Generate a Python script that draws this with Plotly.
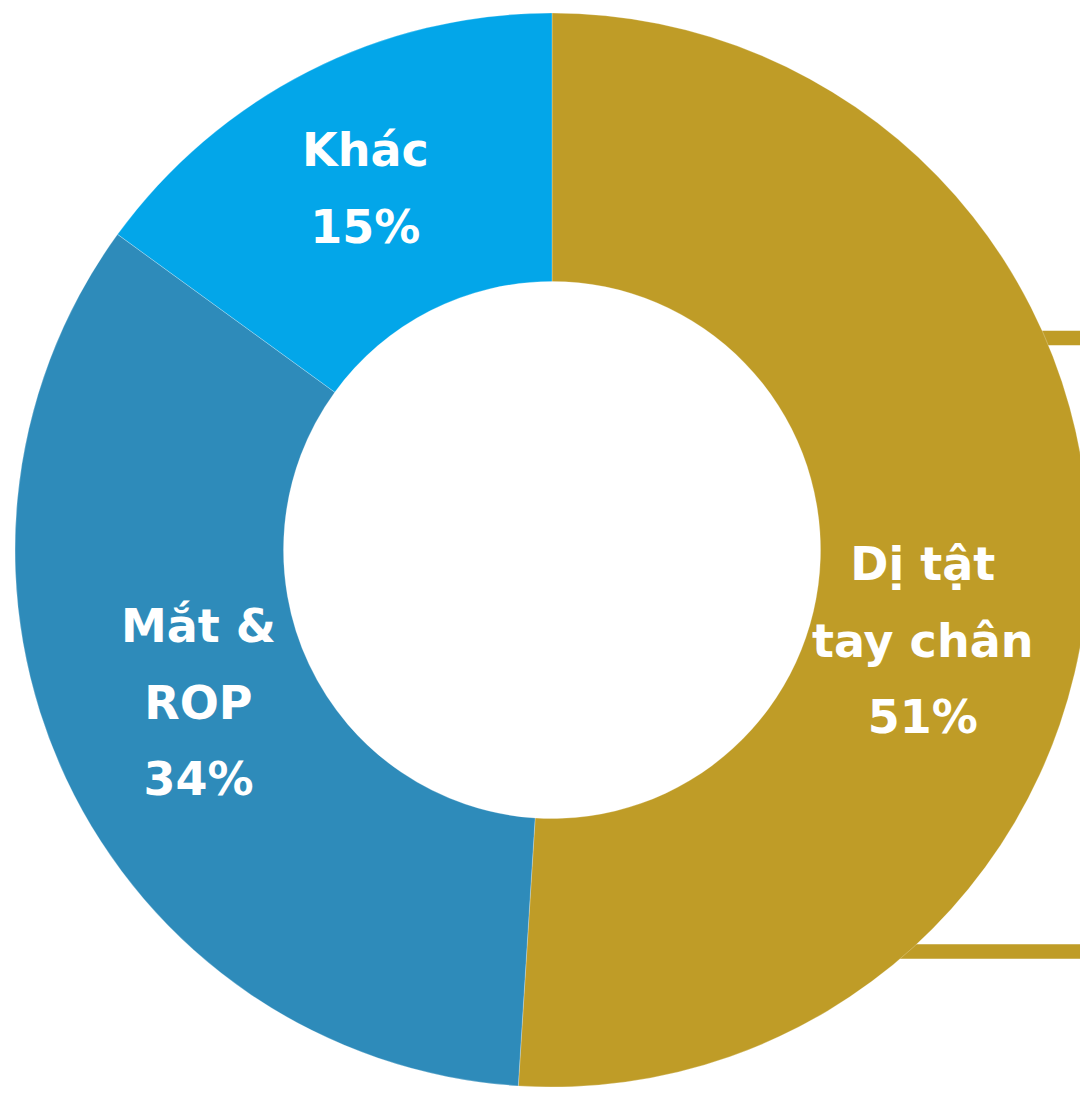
import math
import plotly.graph_objects as go

# ---- data ----
labels = ["Dị tật tay chân", "Mắt & ROP", "Khác"]
label_lines = [["Dị tật", "tay chân"], ["Mắt &", "ROP"], ["Khác"]]
values = [51, 34, 15]
colors = ["#BF9C27", "#2E8BBA", "#03A6E9"]

# label placement (styling): angular nudge in degrees and radius as fraction of outer radius
label_angle_nudge = [12.0, 1.8, -0.3]
label_radius = [0.71, 0.717, 0.758]

W, H = 1100, 1099
GOLD = "#BF9C27"
dom_x = [15 / W, 1089 / W]
dom_y = [12 / H, 1086 / H]

fig = go.Figure(
    go.Pie(
        labels=labels,
        values=values,
        textinfo="none",
        hole=0.5,
        sort=False,
        direction="clockwise",
        rotation=0,
        marker=dict(colors=colors, line=dict(color="rgba(255,255,255,0.5)", width=0.5)),
        domain=dict(x=dom_x, y=dom_y),
        showlegend=False,
        hoverinfo="label+percent",
    )
)

# labels positioned at the slice mid-angles (pie geometry in paper coords)
cx = (dom_x[0] + dom_x[1]) / 2 * W
cy = (1 - (dom_y[0] + dom_y[1]) / 2) * H
R = min((dom_x[1] - dom_x[0]) * W, (dom_y[1] - dom_y[0]) * H) / 2
total = sum(values)
cum = 0
for lines, v, nudge, rf in zip(label_lines, values, label_angle_nudge, label_radius):
    mid = (cum + v / 2) / total * 360 + nudge
    cum += v
    px = cx + rf * R * math.sin(math.radians(mid))
    py = cy - rf * R * math.cos(math.radians(mid))
    parts = [l.replace("&", "&amp;") for l in lines] + [f"{round(v / total * 100)}%"]
    txt = "<br>".join(f"<span style='font-size:46px'>{p}</span>" for p in parts)
    fig.add_annotation(
        x=px / W, y=1 - py / H, xref="paper", yref="paper",
        text=txt, showarrow=False, xanchor="center", yanchor="middle",
        font=dict(family="DejaVu Sans", size=59, color="white", weight="bold"),
    )

fig.add_shape(
    type="rect", xref="paper", yref="paper",
    x0=860 / W, x1=1130 / W, y0=1 - 951.5 / H, y1=1 - 338 / H,
    line=dict(color=GOLD, width=14.5), fillcolor="rgba(0,0,0,0)", layer="below",
)

fig.update_layout(
    width=W, height=H,
    margin=dict(l=0, r=0, t=0, b=0),
    paper_bgcolor="white", plot_bgcolor="white",
)

fig.write_html(
    "out.html",
    config={"displayModeBar": False},
    post_script="document.body.style.margin='0';document.body.style.overflow='hidden';",
)
